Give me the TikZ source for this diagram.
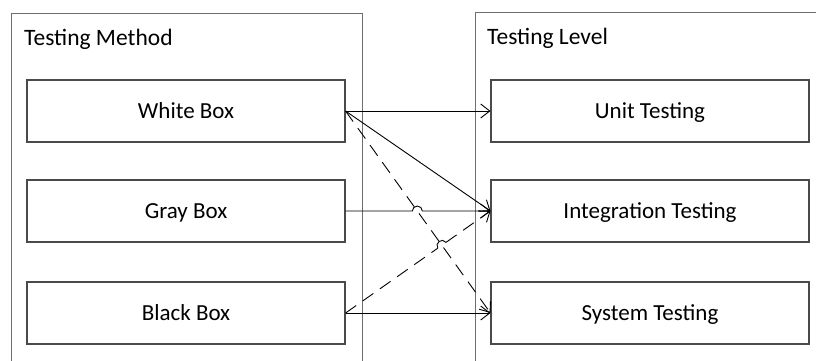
\documentclass[tikz,border=0pt]{standalone}
\usepackage{fontspec}
\setmainfont{Carlito}
\usetikzlibrary{arrows.meta,calc}
\definecolor{frame}{HTML}{6E6E6E}
\definecolor{boxline}{HTML}{4A4A4A}
\tikzset{
  group/.style={draw=frame,line width=1.3pt,inner sep=0pt},
  item/.style={draw=boxline,line width=1.1pt,minimum width=318pt,minimum height=62pt,
    inner sep=0pt,text height=14.8pt,text depth=0pt,font=\fontsize{23}{27}\selectfont},
  heading/.style={anchor=base west,inner sep=0pt,font=\fontsize{23.5}{28}\selectfont},
  link/.style={draw=black,line width=0.9pt,-{Straight Barb[length=9pt,width=14pt,line width=0.9pt]}},
  plain/.style={draw=black,line width=0.9pt},
  dashlink/.style={link,dash pattern=on 13pt off 8pt},
  dashplain/.style={plain,dash pattern=on 13pt off 8pt},
}
\begin{document}
\begin{tikzpicture}[x=1pt,y=-1pt]
\useasboundingbox (0,0) rectangle (816,360);
\clip (0,0) rectangle (816,360);
\fill[white] (0,0) rectangle (816,360);

% the two groups, open at the bottom and the right
\node[group,minimum width=351pt,minimum height=400pt,anchor=north west] (methods) at (11,13) {};
\node[group,minimum width=400pt,minimum height=400pt,anchor=north west] (levels) at (475,12) {};
\node[heading] (mtitle) at (24,45) {Testing Method};
\node[heading] (ltitle) at (487,44) {Testing Level};

% testing methods
\node[item] (wb) at (186,111) {White Box};
\node[item] (gb) at (186,211) {Gray Box};
\node[item] (bb) at (186,313) {Black Box};

% testing levels
\node[item] (ut) at (650,111) {Unit Testing};
\node[item] (it) at (650,211) {Integration Testing};
\node[item] (st) at (650,313) {System Testing};

% solid links
\draw[link] (wb.east) -- (ut.west);
\draw[link] (wb.east) -- (it.west);
\draw[link] (bb.east) -- (st.west);

% dashed link from White Box down to System Testing
\draw[dashlink] (wb.east) -- (st.west);

% Gray Box link hops over the dashed line
\coordinate (h1) at (intersection of gb.east--it.west and wb.east--st.west);
\draw[link] (gb.east) -- ($(h1)+(-5,0)$) arc[start angle=180,end angle=0,radius=5pt]
  -- (it.west);

% dashed link from Black Box up to Integration Testing, hopping the other dashed line
\coordinate (h2) at (intersection of bb.east--it.west and wb.east--st.west);
\coordinate (h2a) at ($(h2)!5pt!(bb.east)$);
\coordinate (h2b) at ($(h2)!5pt!(it.west)$);
\draw[dashplain] (bb.east) -- (h2a);
\draw[plain] (h2a) to[bend left=90,looseness=1.6] (h2b);
\draw[dashlink] (h2b) -- (it.west);
\end{tikzpicture}
\end{document}
